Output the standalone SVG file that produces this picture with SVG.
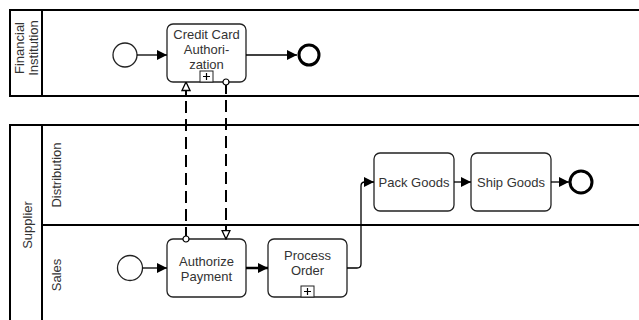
<svg xmlns="http://www.w3.org/2000/svg" width="639" height="320" viewBox="0 0 639 320">
<style>
.pool{fill:none;stroke:#000;stroke-width:2}
.task{fill:#fff;stroke:#222;stroke-width:1.3}
.t{font-family:"Liberation Sans",Arial,sans-serif;font-size:13px;fill:#333;text-anchor:middle}
.seq{fill:none;stroke:#000;stroke-width:1.3}
.msg{fill:none;stroke:#000;stroke-width:2;stroke-dasharray:12 6}
.ev{fill:#fff;stroke:#222;stroke-width:1.3}
.end{fill:#fff;stroke:#000;stroke-width:3}
.mk{fill:#fff;stroke:#222;stroke-width:1}
</style>
<defs>
<marker id="arr" viewBox="0 0 10 10" refX="10" refY="5" markerWidth="10" markerHeight="10" markerUnits="userSpaceOnUse" orient="auto">
<path d="M0,0 L10,5 L0,10 z" fill="#000"/>
</marker>
<marker id="open" viewBox="0 0 10 10" refX="9.5" refY="5" markerWidth="10" markerHeight="10" markerUnits="userSpaceOnUse" orient="auto">
<path d="M1,1 L9.5,5 L1,9 z" fill="#fff" stroke="#000" stroke-width="1.3"/>
</marker>
<marker id="dot" viewBox="0 0 8 8" refX="4" refY="4" markerWidth="8" markerHeight="8" markerUnits="userSpaceOnUse">
<circle cx="4" cy="4" r="3" fill="#fff" stroke="#000" stroke-width="1.2"/>
</marker>
</defs>

<g id="pool-financial">
<rect class="pool" x="10" y="10" width="640" height="86"/>
<line class="pool" x1="42" y1="10" x2="42" y2="96"/>
<text class="t" transform="translate(24,48) rotate(-90)">Financial</text>
<text class="t" transform="translate(38,48) rotate(-90)">Institution</text>
</g>

<g id="pool-supplier">
<rect class="pool" x="10" y="125" width="640" height="200"/>
<line class="pool" x1="42" y1="125" x2="42" y2="325"/>
<line class="pool" x1="42" y1="225" x2="650" y2="225"/>
<text class="t" transform="translate(32,225) rotate(-90)">Supplier</text>
<text class="t" transform="translate(61,175) rotate(-90)">Distribution</text>
<text class="t" transform="translate(61,275) rotate(-90)">Sales</text>
</g>

<g id="start-fi"><circle class="ev" cx="125" cy="55" r="12"/></g>
<g id="task-cca">
<rect class="task" x="167" y="24" width="79" height="58" rx="6"/>
<text class="t" x="206.5" y="39">Credit Card</text>
<text class="t" x="206.5" y="54">Authori-</text>
<text class="t" x="206.5" y="69">zation</text>
<rect class="mk" x="200" y="71" width="13" height="11"/>
<path d="M206.5,73 V80 M203,76.5 H210" stroke="#000" stroke-width="1.2"/>
</g>
<g id="end-fi"><circle class="end" cx="309" cy="55" r="10"/></g>

<g id="start-sales"><circle class="ev" cx="130" cy="268" r="12.5"/></g>
<g id="task-ap">
<rect class="task" x="167" y="239" width="79" height="58" rx="6"/>
<text class="t" x="206.5" y="266">Authorize</text>
<text class="t" x="206.5" y="281">Payment</text>
</g>
<g id="task-po">
<rect class="task" x="268" y="239" width="79" height="58" rx="6"/>
<text class="t" x="307.5" y="260">Process</text>
<text class="t" x="307.5" y="275">Order</text>
<rect class="mk" x="301" y="286" width="13" height="11"/>
<path d="M307.5,288 V295 M304,291.5 H311" stroke="#000" stroke-width="1.2"/>
</g>
<g id="task-pack">
<rect class="task" x="374" y="153" width="80" height="58" rx="6"/>
<text class="t" x="414" y="187">Pack Goods</text>
</g>
<g id="task-ship">
<rect class="task" x="471" y="153" width="80" height="58" rx="6"/>
<text class="t" x="511" y="187">Ship Goods</text>
</g>
<g id="end-dist"><circle class="end" cx="581" cy="182" r="11"/></g>

<g id="connectors">
<line class="seq" x1="137" y1="55" x2="167" y2="55" marker-end="url(#arr)"/>
<line class="seq" x1="246" y1="55" x2="297" y2="55" marker-end="url(#arr)"/>
<line class="seq" x1="142.5" y1="268" x2="167" y2="268" marker-end="url(#arr)"/>
<line class="seq" style="stroke-width:2.5" x1="246" y1="268" x2="268" y2="268" marker-end="url(#arr)"/>
<path class="seq" d="M347,268 H357 Q361,268 361,264 V186 Q361,182 365,182 H374" marker-end="url(#arr)"/>
<line class="seq" x1="454" y1="182" x2="471" y2="182" marker-end="url(#arr)"/>
<line class="seq" x1="551" y1="182" x2="569" y2="182" marker-end="url(#arr)"/>
<line class="msg" x1="186" y1="239" x2="186" y2="82" marker-start="url(#dot)" marker-end="url(#open)"/>
<line class="msg" x1="226" y1="82" x2="226" y2="239" marker-start="url(#dot)" marker-end="url(#open)"/>
</g>
</svg>
